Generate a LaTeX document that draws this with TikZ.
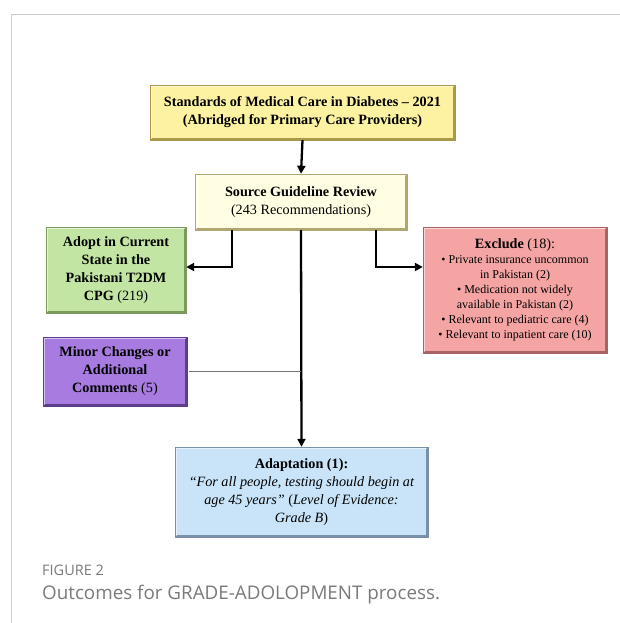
\documentclass[tikz,border=0pt]{standalone}
\usepackage{fontspec}
\setmainfont{Liberation Serif}
\newfontfamily\capfont{Open Sans}
\usetikzlibrary{arrows.meta,calc}
\definecolor{frame}{HTML}{CCCCCC}
\definecolor{capgrey}{HTML}{7A7A7A}
\definecolor{yel}{HTML}{FCF2A2}
\definecolor{yeldk}{HTML}{A89A4A}
\definecolor{lyel}{HTML}{FFFDE2}
\definecolor{lyeldk}{HTML}{B0A670}
\definecolor{grn}{HTML}{C3E5A3}
\definecolor{grndk}{HTML}{7C9A60}
\definecolor{pnk}{HTML}{F5A4A4}
\definecolor{pnkdk}{HTML}{A86464}
\definecolor{pur}{HTML}{A77BDF}
\definecolor{purdk}{HTML}{5E3E8A}
\definecolor{blu}{HTML}{C9E4F8}
\definecolor{bludk}{HTML}{7890A8}
\tikzset{
  box/.style={rectangle, align=center, inner sep=2pt, font=\fontsize{14.2}{18}\selectfont},
  arr/.style={line width=2.3pt, -{Triangle[length=8pt,width=8pt]}},
  thinline/.style={draw=black!55, line width=0.8pt},
}
\newcommand{\bevelbox}[2]{%
  \draw[#2, line width=2pt] ($(#1.south west)+(1,-1)$) -- ($(#1.south east)+(-1,-1)$) -- ($(#1.north east)+(-1,1)$);
  \draw[white, opacity=0.55, line width=2pt] ($(#1.south west)+(1,-1)$) -- ($(#1.north west)+(1,1)$) -- ($(#1.north east)+(-1,1)$);
  \draw[#2, line width=0.5pt] (#1.south west) rectangle (#1.north east);
}
\begin{document}
\begin{tikzpicture}[x=1pt,y=-1pt]
\useasboundingbox (0,0) rectangle (620,623);
\fill[white] (0,0) rectangle (620,623);
\draw[frame, line width=1pt] (620,15) -- (11,15) -- (11,623);

\node[box, fill=yel, minimum width=305pt, minimum height=55pt] (top) at (302.5,112.5)
  {\textbf{Standards of Medical Care in Diabetes – 2021}\\\textbf{(Abridged for Primary Care Providers)}};
\node[box, fill=lyel, minimum width=212pt, minimum height=56pt] (src) at (301,202)
  {\textbf{Source Guideline Review}\\(243 Recommendations)};
\node[box, fill=grn, minimum width=140pt, minimum height=86pt] (adopt) at (116,270)
  {\textbf{Adopt in Current}\\\textbf{State in the}\\\textbf{Pakistani T2DM}\\\textbf{CPG} (219)};
\node[box, fill=pnk, minimum width=184pt, minimum height=126pt, font=\fontsize{12}{15}\selectfont] (excl) at (515,290)
  {\fontsize{14.2}{15}\selectfont\textbf{Exclude} (18):\\
   • Private insurance uncommon\\in Pakistan (2)\\
   • Medication not widely\\available in Pakistan (2)\\
   • Relevant to pediatric care (4)\\
   • Relevant to inpatient care (10)};
\node[box, fill=pur, minimum width=144pt, minimum height=69pt] (minor) at (115,371.5)
  {\textbf{Minor Changes or}\\\textbf{Additional}\\\textbf{Comments} (5)};
\node[box, fill=blu, minimum width=253pt, minimum height=90pt] (adapt) at (301.5,492)
  {\textbf{Adaptation (1):}\\
   \textit{“For all people, testing should begin at}\\
   \textit{age 45 years”} (\textit{Level of Evidence:}\\
   \textit{Grade B})};

\bevelbox{top}{yeldk}
\bevelbox{src}{lyeldk}
\bevelbox{adopt}{grndk}
\bevelbox{excl}{pnkdk}
\bevelbox{minor}{purdk}
\bevelbox{adapt}{bludk}

\coordinate (ll) at (232,267);
\coordinate (rl) at (376,267);
\draw[arr] (top.south) -- (src.north);
\draw[arr] (src.south -| ll) |- (adopt.east |- ll);
\draw[arr] (src.south -| rl) |- (excl.west |- rl);
\draw[arr] (src.south) -- (adapt.north);
\draw[thinline] ($(minor.east)+(2,0)$) -- (minor.east -| src.south);

\node[anchor=base west, inner sep=0pt, text=capgrey, font=\capfont\fontsize{14.5}{16}\selectfont] (fig) at (42,575) {FIGURE 2};
\node[anchor=base west, inner sep=0pt, text=capgrey, font=\capfont\fontsize{18.8}{22}\selectfont] (cap) at (42,599) {Outcomes for GRADE-ADOLOPMENT process.};
\end{tikzpicture}
\end{document}
